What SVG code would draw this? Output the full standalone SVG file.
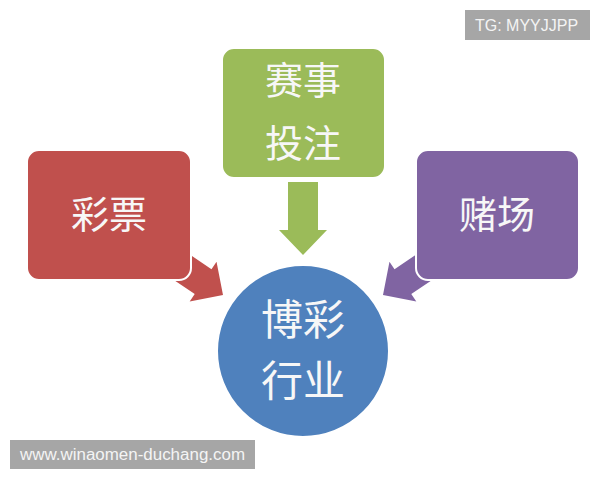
<svg xmlns="http://www.w3.org/2000/svg" width="600" height="480" viewBox="0 0 600 480">
  <style>
    .box { stroke: #ffffff; stroke-width: 2; }
    .cjk { font-family: "Noto Sans CJK SC", "Noto Sans CJK TC", sans-serif; fill: #f7f7f7; text-anchor: middle; }
    .tag { fill: #a6a6a6; }
    .tagtext { font-family: "Liberation Sans", Arial, sans-serif; font-size: 16px; fill: #f4f4f4; }
  </style>
  <defs>
    <polygon id="arrowShape" points="-72,-15 -24,-15 -24,-24 0,0 -24,24 -24,15 -72,15"/>
  </defs>
  <rect x="0" y="0" width="600" height="480" fill="#ffffff"/>

  <g id="connectors">
    <use href="#arrowShape" transform="translate(223,295) rotate(34)" fill="#c0504d"/>
    <use href="#arrowShape" transform="translate(383,295) rotate(146)" fill="#8064a2"/>
    <polygon points="288,182 318,182 318,230 327,230 303,255 279,230 288,230" fill="#9bbb59"/>
  </g>

  <g id="node-lottery">
    <rect class="box" x="27" y="150" width="164" height="130" rx="12" fill="#c0504d"/>
    <text class="cjk" x="109" y="228" font-size="38">彩票</text>
  </g>

  <g id="node-sports">
    <rect class="box" x="222" y="48" width="163" height="130" rx="12" fill="#9bbb59"/>
    <text class="cjk" x="303" y="94" font-size="38">赛事</text>
    <text class="cjk" x="303" y="157" font-size="38">投注</text>
  </g>

  <g id="node-casino">
    <rect class="box" x="416" y="150" width="163" height="130" rx="12" fill="#8064a2"/>
    <text class="cjk" x="497" y="228" font-size="38">赌场</text>
  </g>

  <g id="node-industry">
    <circle class="box" cx="303" cy="351" r="86" fill="#4f81bd"/>
    <text class="cjk" x="303" y="335" font-size="42">博彩</text>
    <text class="cjk" x="303" y="396" font-size="42">行业</text>
  </g>

  <g id="tag-top">
    <rect class="tag" x="465" y="10" width="125" height="30"/>
    <text class="tagtext" x="475" y="31">TG: MYYJJPP</text>
  </g>

  <g id="tag-bottom">
    <rect class="tag" x="10" y="440" width="245" height="29"/>
    <text class="tagtext" x="20" y="460" textLength="225" lengthAdjust="spacingAndGlyphs">www.winaomen-duchang.com</text>
  </g>
</svg>
